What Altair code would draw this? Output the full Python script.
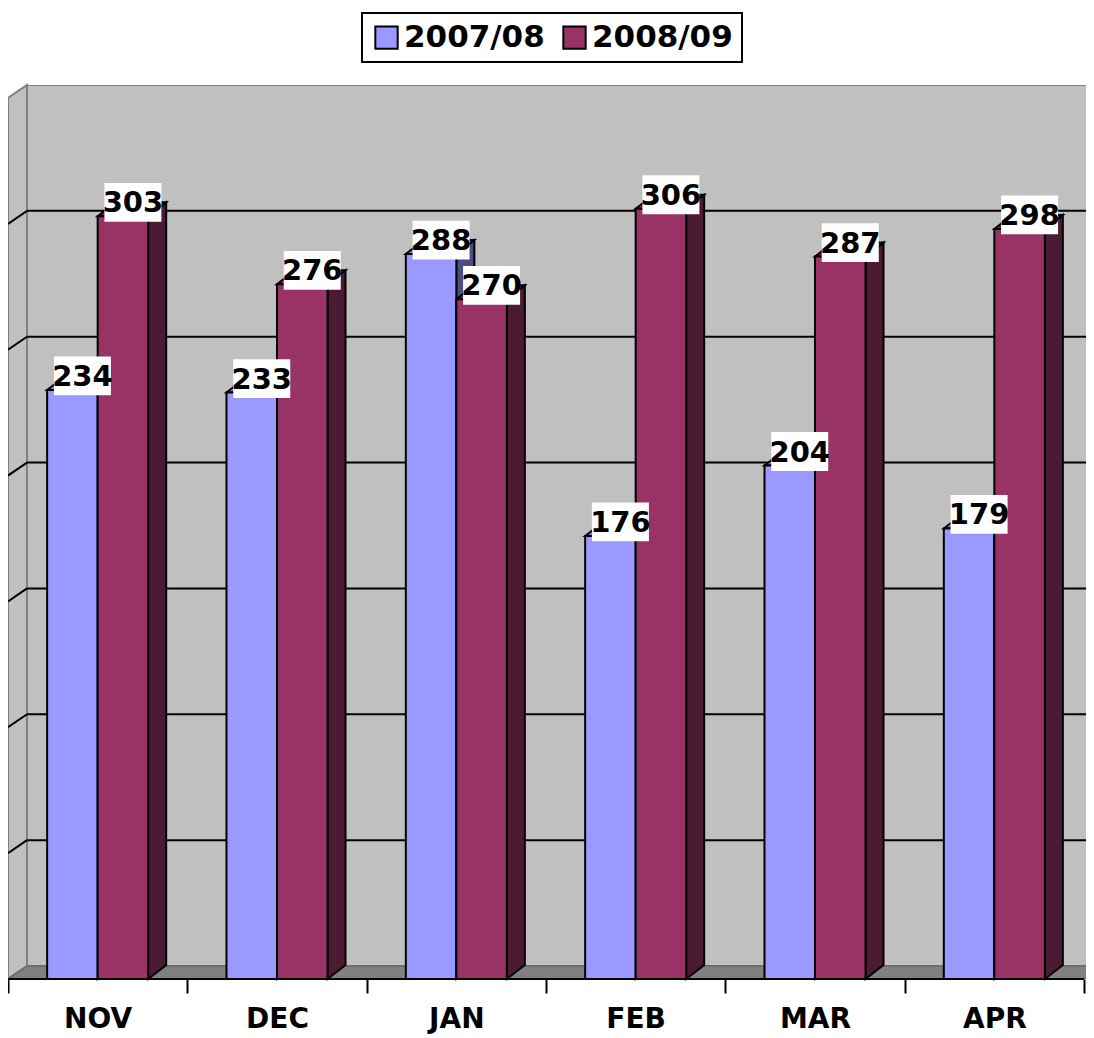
import altair as alt
import pandas as pd

# ---------------- data ----------------
months = ["NOV", "DEC", "JAN", "FEB", "MAR", "APR"]
series = ["2007/08", "2008/09"]
values_0708 = [234, 233, 288, 176, 204, 179]
values_0809 = [303, 276, 270, 306, 287, 298]

front_colors = ["#9999FF", "#993366"]
side_colors = ["#4D4D80", "#4D1A33"]
top_colors = ["#7A7ACC", "#7A2952"]

# ---------------- layout constants ----------------
PLOT_W, PLOT_H = 1078, 894
N = len(months)
CAT_PX = 1076 / N
Y_TOP = 350
GRID_STEP = 50
WALL_DX_PX, WALL_DY_PX = 19, 13
BAR_DX_PX, BAR_DY_PX = 18, 14
LABEL_DX_PX, LABEL_DY_PX = 10, 14
K = (PLOT_H - WALL_DY_PX) / Y_TOP
X_MAX = PLOT_W / CAT_PX
Y_MAX = Y_TOP + WALL_DY_PX / K
WDX, WDY = WALL_DX_PX / CAT_PX, WALL_DY_PX / K
BDX, BDY = BAR_DX_PX / CAT_PX, BAR_DY_PX / K
BAR_W = 1 / 3.55

XS = alt.Scale(domain=[0, X_MAX], nice=False, zero=False)
YS = alt.Scale(domain=[0, Y_MAX], nice=False, zero=False)
FONT = "DejaVu Sans"

label_list = "[" + ",".join("'%s'" % m for m in months) + ",'']"
XAXIS = alt.Axis(
    values=list(range(N + 1)), labelExpr=label_list + "[datum.value]",
    labelOffset=CAT_PX / 2, tickSize=14, tickWidth=2, tickColor="black",
    domain=False, grid=False, labelFont=FONT, labelFontSize=28,
    labelFontWeight="bold", labelColor="black", labelPadding=12,
    labelOverlap=False, labelBound=False, labelFlush=False, title=None,
)


def xe(f):
    return alt.X(f, type="quantitative", scale=XS, axis=XAXIS)


def ye(f):
    return alt.Y(f, type="quantitative", scale=YS, axis=None)


# ---------------- walls & floor ----------------
back = alt.Chart(pd.DataFrame({"x": [WDX], "x2": [X_MAX + 0.05], "y": [WDY], "y2": [Y_MAX]})).mark_rect(
    fill="#C0C0C0", stroke="#808080", strokeWidth=2, clip=True
).encode(x=xe("x"), x2="x2", y=ye("y"), y2="y2")

left = alt.Chart(pd.DataFrame({"x": [0, WDX], "y": [0, WDY], "y2": [Y_TOP, Y_MAX]})).mark_area(
    fill="#C0C0C0", stroke="#808080", strokeWidth=2
).encode(x=xe("x"), y=ye("y"), y2="y2")

floor = alt.Chart(pd.DataFrame({"y": [0, WDY], "x": [0, WDX], "x2": [N, N + WDX]})).mark_area(
    orient="horizontal", fill="#808080", stroke="#6E6E6E", strokeWidth=2, clip=True
).encode(y=ye("y"), x=xe("x"), x2="x2")

grid_vals = list(range(GRID_STEP, Y_TOP, GRID_STEP))
gdf = pd.DataFrame({"v": grid_vals})
gdf["yb"] = gdf["v"] + WDY
grid_back = alt.Chart(gdf).transform_calculate(xa=str(WDX), xb=str(X_MAX + 0.05)).mark_rule(
    color="black", strokeWidth=2, clip=True
).encode(x=xe("xa:Q"), x2="xb:Q", y=ye("yb"))
grid_left = alt.Chart(gdf).transform_calculate(xa="0", xb=str(WDX)).mark_rule(
    color="black", strokeWidth=2
).encode(x=xe("xa:Q"), x2="xb:Q", y=ye("v"), y2="yb")

front_edge = alt.Chart(pd.DataFrame({"x": [0], "x2": [N], "y": [0]})).mark_rule(
    color="black", strokeWidth=2
).encode(x=xe("x"), x2="x2", y=ye("y"))

# ---------------- bars ----------------
rows, side_rows, top_rows = [], [], []
for s, vals in enumerate([values_0708, values_0809]):
    for i, v in enumerate(vals):
        x0 = i + 0.5 + (s - 1) * BAR_W
        x1 = x0 + BAR_W
        bid = f"{s}-{i}"
        rows.append({"series": series[s], "month": months[i], "value": v,
                     "x0": x0, "x1": x1,
                     "lx": (x0 + x1) / 2 + LABEL_DX_PX / CAT_PX,
                     "ly": v + LABEL_DY_PX / K})
        for t in (0, 1):
            side_rows.append({"id": bid, "col": side_colors[s],
                              "x": x1 + t * BDX, "y": t * BDY, "y2": v + t * BDY})
            top_rows.append({"id": bid, "col": top_colors[s],
                             "y": v + t * BDY, "x": x0 + t * BDX, "x2": x1 + t * BDX})
bars = pd.DataFrame(rows)

sides = alt.Chart(pd.DataFrame(side_rows)).mark_area(
    stroke="black", strokeWidth=2, opacity=1
).encode(x=xe("x"), y=ye("y"), y2="y2", detail="id:N",
         color=alt.Color("col:N", scale=None))

tops = alt.Chart(pd.DataFrame(top_rows)).mark_area(
    orient="horizontal", stroke="black", strokeWidth=2, opacity=1
).encode(y=ye("y"), x=xe("x"), x2="x2", detail="id:N",
         color=alt.Color("col:N", scale=None))

fronts = alt.Chart(bars).mark_rect(stroke="black", strokeWidth=2, opacity=1).encode(
    x=xe("x0"), x2="x1", y=alt.Y("zero:Q", scale=YS, axis=None), y2="value",
    color=alt.Color(
        "series:N", scale=alt.Scale(domain=series, range=front_colors),
        legend=alt.Legend(
            title=None, orient="none", legendX=354, legendY=-72, direction="horizontal",
            symbolType="square", symbolSize=500, symbolStrokeColor="black",
            symbolStrokeWidth=2, symbolOpacity=1, labelFont=FONT, labelFontSize=31,
            labelFontWeight="bold", labelColor="black", labelOffset=2, labelLimit=400,
            columnPadding=14, padding=9, strokeColor="black", fillColor="white",
        ),
    ),
).transform_calculate(zero="0")

boxes = alt.Chart(bars).mark_point(
    shape="M-1,-0.68L1,-0.68L1,0.68L-1,0.68Z", size=57 ** 2, filled=True,
    fill="white", opacity=1, strokeWidth=0
).encode(x=xe("lx"), y=ye("ly"))

texts = alt.Chart(bars).mark_text(
    font=FONT, fontWeight="bold", fontSize=29, color="black",
    align="center", baseline="middle", dy=1
).encode(x=xe("lx"), y=ye("ly"), text="value:Q")

chart = alt.layer(
    back, left, floor, grid_back, grid_left, front_edge, sides, tops, fronts, boxes, texts
).properties(
    width=PLOT_W, height=PLOT_H,
    autosize=alt.AutoSizeParams(type="none"),
    padding={"left": 0, "top": 77, "right": 0, "bottom": 55},
    background="white",
).configure_view(strokeWidth=0).configure_legend(strokeWidth=2)

chart.save("out.html", embed_options={"renderer": "svg", "actions": False})
